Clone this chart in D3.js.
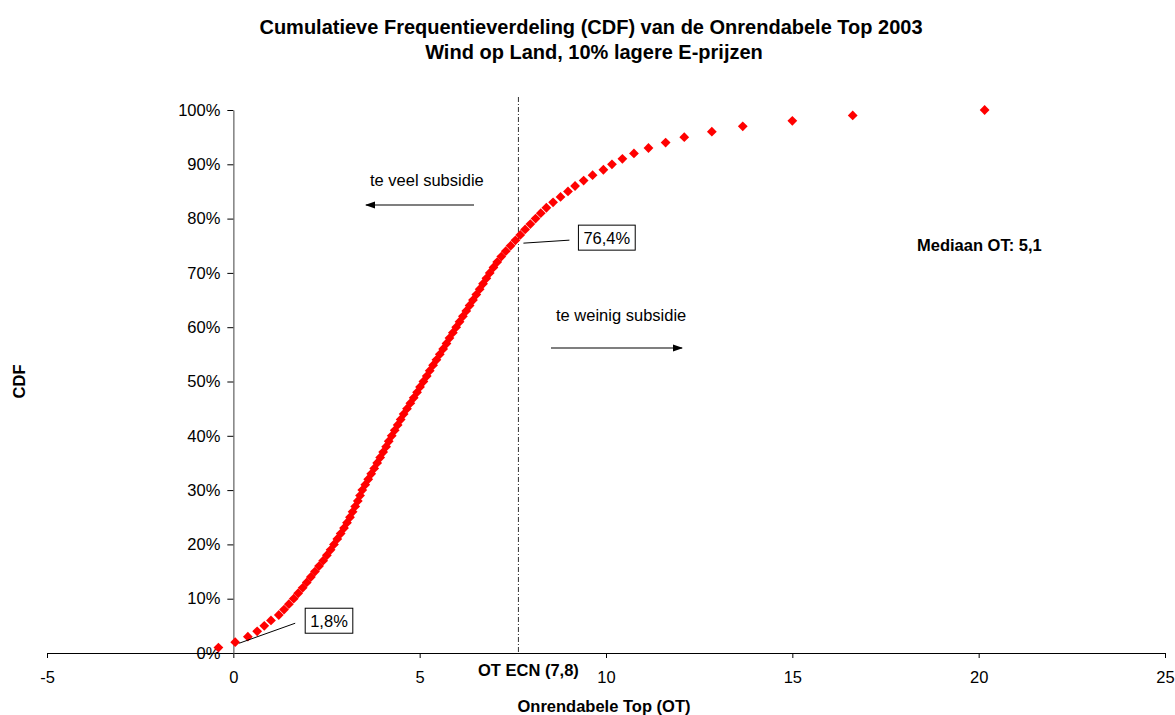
<!DOCTYPE html>
<html>
<head>
<meta charset="utf-8">
<script src="https://cdn.jsdelivr.net/npm/d3@7"></script>
<style>
  body { margin: 0; background: #fff; }
  svg { font-family: "Liberation Sans", Arial, sans-serif; }
</style>
</head>
<body>
<div id="chart"></div>
<script>
// CDF levels (%) and the OT value for each level
const cdfLevels = d3.range(1, 101);
const otValues = [
  -0.40, 0.05, 0.39, 0.64, 0.83, 1.01, 1.22, 1.36, 1.49, 1.62,
   1.74, 1.86, 1.97, 2.08, 2.19, 2.30, 2.41, 2.51, 2.61, 2.70,
   2.79, 2.88, 2.97, 3.05, 3.13, 3.20, 3.27, 3.34, 3.40, 3.46,
   3.54, 3.62, 3.70, 3.78, 3.86, 3.94, 4.02, 4.10, 4.17, 4.25,
   4.33, 4.41, 4.49, 4.57, 4.66, 4.75, 4.84, 4.93, 5.01, 5.10,
   5.19, 5.27, 5.36, 5.45, 5.54, 5.63, 5.72, 5.80, 5.89, 5.98,
   6.07, 6.16, 6.25, 6.34, 6.43, 6.52, 6.61, 6.70, 6.79, 6.88,
   6.98, 7.08, 7.19, 7.31, 7.44, 7.57, 7.70, 7.83, 7.97, 8.11,
   8.25, 8.40, 8.58, 8.78, 8.98, 9.17, 9.40, 9.64, 9.93, 10.16,
  10.44, 10.75, 11.14, 11.60, 12.10, 12.84, 13.67, 15.00, 16.62, 20.16
];

const xTicks = [-5, 0, 5, 10, 15, 20, 25];
const yTicks = [0, 10, 20, 30, 40, 50, 60, 70, 80, 90, 100];

const ecnLine = 7.65;      // where the dashed OT ECN line sits
const ecnLabel = "OT ECN (7,8)";
const medianLabel = "Mediaan OT: 5,1";

// callout labels
const callouts = [
  { x: 0.05, y: 1.8, text: "1,8%" },
  { x: 7.65, y: 76.4, text: "76,4%" }
];

const width = 1175, height = 715;

const svg = d3.select("#chart").append("svg")
    .attr("width", width)
    .attr("height", height);

const xScale = d3.scaleLinear()
    .domain([-5, 25])
    .range([47, 1165]);

const yScale = d3.scaleLinear()
    .domain([0, 100])
    .range([653, 110]);

// Titles
svg.append("text")
    .attr("x", 591).attr("y", 34)
    .attr("text-anchor", "middle")
    .style("font-size", "20px").style("font-weight", "bold")
    .text("Cumulatieve Frequentieverdeling (CDF) van de Onrendabele Top 2003");
svg.append("text")
    .attr("x", 594).attr("y", 59)
    .attr("text-anchor", "middle")
    .style("font-size", "20px").style("font-weight", "bold")
    .text("Wind op Land, 10% lagere E-prijzen");

// X axis (black, at y = 0%)
const xAxis = svg.append("g")
    .attr("transform", `translate(0, ${yScale(0)})`)
    .call(d3.axisBottom(xScale).tickValues(xTicks).tickFormat(d => String(d))
        .tickSize(5).tickPadding(13).tickSizeOuter(0));
xAxis.select(".domain").attr("stroke", "#000");
xAxis.selectAll(".tick line").attr("stroke", "#000");
xAxis.selectAll("text").style("font-size", "16.5px").attr("fill", "#000");

// Y axis (gray, at x = 0)
const yAxis = svg.append("g")
    .attr("transform", `translate(${xScale(0)}, 0)`)
    .call(d3.axisLeft(yScale).tickValues(yTicks).tickFormat(d => d + "%").tickSize(6).tickPadding(7).tickSizeOuter(0));
yAxis.select(".domain").attr("stroke", "#808080").attr("stroke-width", 1.5);
yAxis.selectAll(".tick line").attr("stroke", "#000");
yAxis.selectAll("text").style("font-size", "16.5px").attr("fill", "#000");

// Axis titles
svg.append("text")
    .attr("x", 604).attr("y", 712)
    .attr("text-anchor", "middle")
    .style("font-size", "16.5px").style("font-weight", "bold")
    .text("Onrendabele Top (OT)");
svg.append("text")
    .attr("transform", `translate(25, ${yScale(50)}) rotate(-90)`)
    .attr("text-anchor", "middle")
    .style("font-size", "16.5px").style("font-weight", "bold")
    .text("CDF");

// Dashed vertical line OT ECN
svg.append("line")
    .attr("x1", xScale(ecnLine)).attr("x2", xScale(ecnLine))
    .attr("y1", 97).attr("y2", yScale(0))
    .attr("stroke", "#333")
    .attr("stroke-width", 1)
    .attr("stroke-dasharray", "5,2,1,2");
svg.append("text")
    .attr("x", xScale(ecnLine) + 10).attr("y", 676)
    .attr("text-anchor", "middle")
    .style("font-size", "16.5px").style("font-weight", "bold")
    .text(ecnLabel);

// Arrows
const defs = svg.append("defs");
defs.append("marker")
    .attr("id", "arrow")
    .attr("viewBox", "0 0 10 10")
    .attr("refX", 9).attr("refY", 5)
    .attr("markerWidth", 10).attr("markerHeight", 10)
    .attr("markerUnits", "userSpaceOnUse")
    .attr("orient", "auto")
    .append("path")
    .attr("d", "M0,1.5 L10,5 L0,8.5 Z")
    .attr("fill", "#000");

svg.append("line")
    .attr("x1", 474).attr("y1", 205).attr("x2", 366).attr("y2", 205)
    .attr("stroke", "#000").attr("stroke-width", 1.2)
    .attr("marker-end", "url(#arrow)");
svg.append("text")
    .attr("x", 370).attr("y", 186)
    .style("font-size", "16.5px")
    .text("te veel subsidie");

svg.append("line")
    .attr("x1", 551).attr("y1", 348).attr("x2", 682).attr("y2", 348)
    .attr("stroke", "#000").attr("stroke-width", 1.2)
    .attr("marker-end", "url(#arrow)");
svg.append("text")
    .attr("x", 556).attr("y", 321)
    .style("font-size", "16.5px")
    .text("te weinig subsidie");

// Median label
svg.append("text")
    .attr("x", 917).attr("y", 251)
    .style("font-size", "16.5px").style("font-weight", "bold")
    .text(medianLabel);

// Data points (red diamonds)
const points = cdfLevels.map((c, i) => ({ x: otValues[i], y: c }));
svg.append("g")
    .selectAll("path")
    .data(points)
    .enter()
    .append("path")
    .attr("d", d3.symbol(d3.symbolSquare, 48))
    .attr("transform", d => `translate(${xScale(d.x)}, ${yScale(d.y)}) rotate(45)`)
    .attr("fill", "#ff0000");

// Callouts with leader lines and boxes
const calloutOffsets = [
  { sx: 4, sy: 0, lx: 60, ly: -20, bx: 70, by: -35 },
  { sx: 5, sy: 5, lx: 51, ly: 2, bx: 60, by: -13 }
];
callouts.forEach((c, i) => {
  const px = xScale(c.x), py = yScale(c.y);
  const o = calloutOffsets[i];
  svg.append("line")
      .attr("x1", px + o.sx).attr("y1", py + o.sy)
      .attr("x2", px + o.lx).attr("y2", py + o.ly)
      .attr("stroke", "#000").attr("stroke-width", 1);
  const g = svg.append("g").attr("transform", `translate(${px + o.bx}, ${py + o.by})`);
  const t = g.append("text")
      .attr("x", 5).attr("y", 19)
      .style("font-size", "16.5px")
      .text(c.text);
  const w = t.node().getComputedTextLength() + 10;
  g.insert("rect", "text")
      .attr("width", w).attr("height", 25)
      .attr("fill", "#fff")
      .attr("stroke", "#000").attr("stroke-width", 1);
});
</script>
</body>
</html>
